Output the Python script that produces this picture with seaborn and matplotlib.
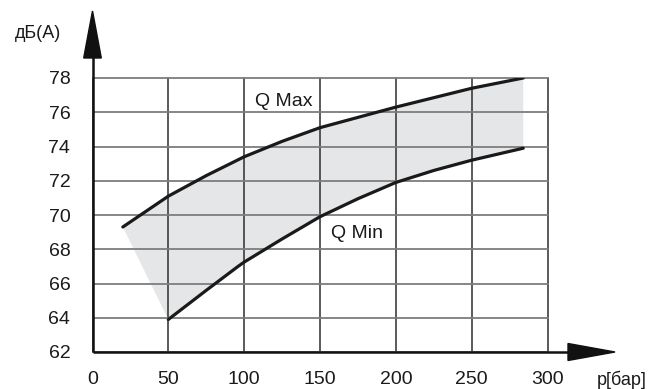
import matplotlib
matplotlib.use("Agg")
import matplotlib.pyplot as plt
import seaborn as sns
import numpy as np
from matplotlib.patches import Polygon

sns.set_theme(style="white")
plt.rcParams["font.family"] = ["Liberation Sans", "DejaVu Sans"]

# Noise level vs. pressure, upper and lower flow limits
p_max = [20, 50, 75, 100, 125, 150, 175, 200, 225, 250, 284]
db_max = [69.3, 71.1, 72.3, 73.4, 74.3, 75.1, 75.7, 76.3, 76.85, 77.4, 78.0]
p_min = [50, 75, 96, 100, 125, 150, 175, 200, 225, 250, 284]
db_min = [63.9, 65.6, 67.0, 67.25, 68.6, 69.9, 70.95, 71.9, 72.6, 73.2, 73.9]

x_ticks = [0, 50, 100, 150, 200, 250, 300]
y_ticks = [62, 64, 66, 68, 70, 72, 74, 76, 78]
y_unit = "дБ(А)"
x_unit = "p[бар]"
label_max = "Q Max"
label_min = "Q Min"

W, H = 666, 389
fig = plt.figure(figsize=(W / 100, H / 100), dpi=100)
left, right, top, bottom = 92.5, 547.5, 78, 352
ax = fig.add_axes([left / W, (H - bottom) / H, (right - left) / W, (bottom - top) / H])

# shaded operating band between the two curves
band_x = np.concatenate([p_max, p_min[::-1]])
band_y = np.concatenate([db_max, db_min[::-1]])
ax.fill(band_x, band_y, color="#e5e6e7", lw=0, zorder=1)

sns.lineplot(x=p_max, y=db_max, ax=ax, color="#1a1a1a", linewidth=2.3, zorder=3)
sns.lineplot(x=p_min, y=db_min, ax=ax, color="#1a1a1a", linewidth=2.3, zorder=3)

ax.set_xlim(0, 300)
ax.set_ylim(62, 78)
ax.set_xticks(x_ticks)
ax.set_yticks(y_ticks)
ax.set_xticklabels([str(v) for v in x_ticks])
ax.set_yticklabels([str(v) for v in y_ticks])
ax.tick_params(axis="both", length=0, labelsize=14, colors="#1a1a1a")
ax.tick_params(axis="x", pad=13.5)
ax.tick_params(axis="y", pad=16)

ax.xaxis.grid(True, color="#2e2e2e", linewidth=1.1, zorder=2)
ax.yaxis.grid(True, color="#7d7d7d", linewidth=1.3, zorder=2)
ax.set_axisbelow(False)
for gl in ax.xaxis.get_gridlines() + ax.yaxis.get_gridlines():
    gl.set_clip_on(False)
    gl.set_zorder(2)
for s in ax.spines.values():
    s.set_visible(False)

# axis lines with arrowheads, laid out in axes fractions
aw, ah = right - left, bottom - top
fx = lambda px: (px - left) / aw
fy = lambda py: (bottom - py) / ah
ax.plot([0, fx(570)], [0, 0], transform=ax.transAxes, color="#111111", lw=1.8,
        clip_on=False, zorder=5, solid_capstyle="butt")
ax.plot([0, 0], [0, fy(56)], transform=ax.transAxes, color="#111111", lw=1.8,
        clip_on=False, zorder=5, solid_capstyle="butt")
ax.add_patch(Polygon([[fx(568), fy(bottom - 8.5)], [fx(615), fy(bottom)], [fx(568), fy(bottom + 8.5)]],
                     closed=True, transform=ax.transAxes, color="#111111", clip_on=False, zorder=6))
ax.add_patch(Polygon([[fx(left - 8.8), fy(58)], [fx(left), fy(11)], [fx(left + 8.8), fy(58)]],
                     closed=True, transform=ax.transAxes, color="#111111", clip_on=False, zorder=6))

ax.text(125.8, 76.6, label_max, fontsize=14, color="#1a1a1a", ha="center", va="center", zorder=4)
ax.text(174.4, 68.9, label_min, fontsize=14, color="#1a1a1a", ha="center", va="center", zorder=4)

fig.text(38 / W, 1 - 33 / H, y_unit, fontsize=13, color="#1a1a1a", ha="center", va="center")
fig.text(622 / W, 1 - 380 / H, x_unit, fontsize=13, color="#1a1a1a", ha="center", va="center")

fig.savefig("out.png", dpi=100)
